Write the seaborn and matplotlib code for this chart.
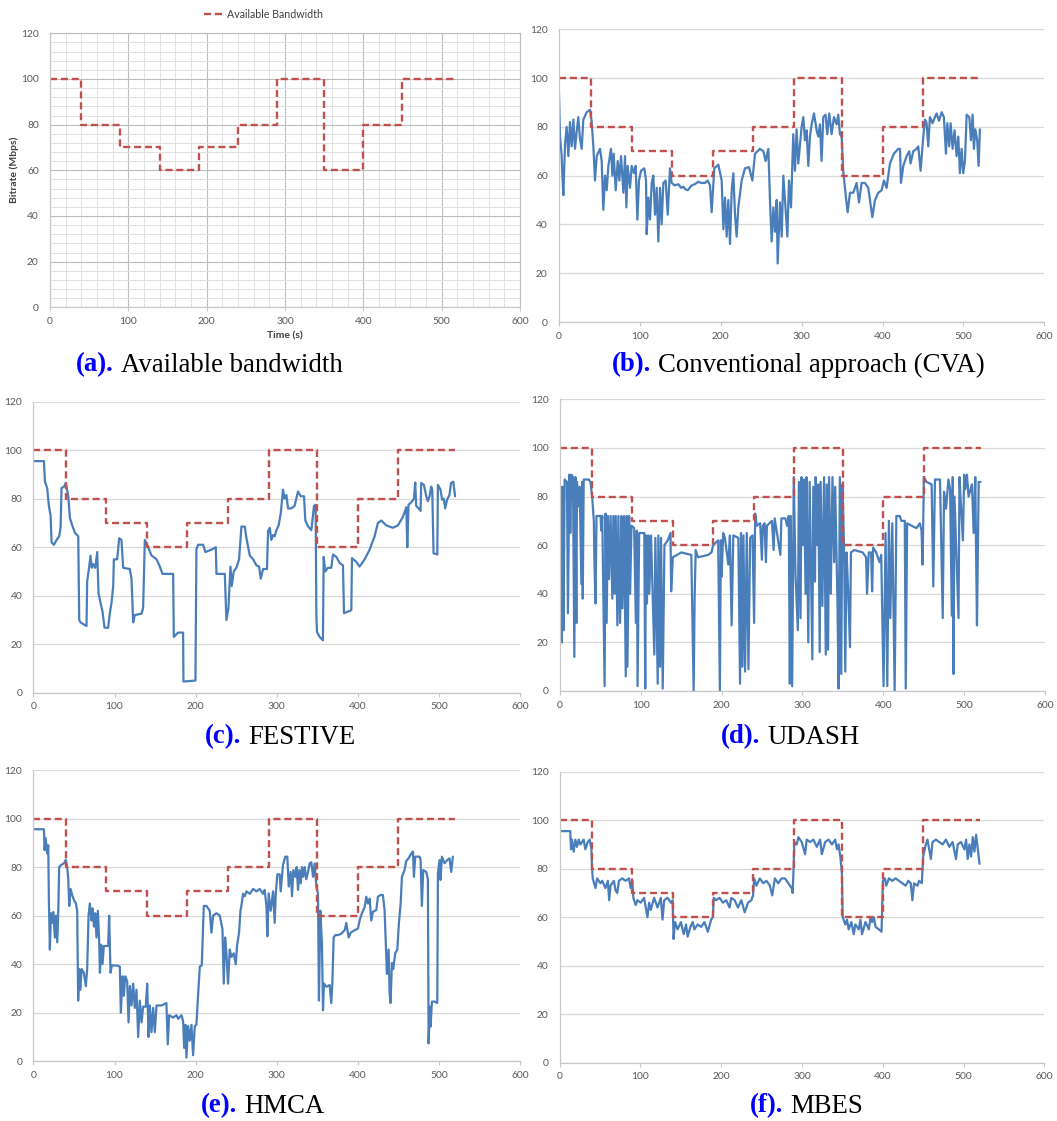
import seaborn as sns
import matplotlib.pyplot as plt
from matplotlib.ticker import MultipleLocator

# available bandwidth (step changes): time (s) -> Mbps
bw_time = [0, 40, 90, 140, 190, 240, 290, 350, 400, 450, 520]
bw_level = [100, 80, 70, 60, 70, 80, 100, 60, 80, 100, 100]

cva = [(0, 95), (1.4, 76), (3.4, 68), (4.3, 60), (5.5, 52), (7.6, 73), (9.6, 80), (11.7, 68),
       (13.7, 82), (15.8, 72), (17.9, 83), (19.9, 71), (22, 78), (24, 84), (26.1, 75), (28.2, 71),
       (30.2, 83), (34.3, 86), (38.5, 87), (40.5, 82), (42.6, 72), (44.6, 58), (46.7, 68), (50.8, 71),
       (52.9, 66), (54.9, 46), (57, 60), (59.1, 54), (61.1, 64), (64.4, 71), (66.1, 60), (67.7, 69),
       (70.2, 54), (72.7, 66), (74.7, 58), (76.8, 68), (79.7, 53), (81.7, 68), (83.4, 47), (85, 64),
       (87.9, 55), (90, 64), (92.8, 61), (94.9, 64), (97, 42), (99, 58), (101.5, 62), (105.6, 63),
       (107.7, 58), (108.5, 36), (110.6, 51), (112.6, 42), (114.7, 57), (116.7, 60), (118.8, 44),
       (120.9, 55), (122.9, 33), (125, 55), (127, 40), (129.1, 57), (132, 58), (134.5, 44),
       (137.3, 63), (139.4, 57), (143, 56), (147.6, 56.5), (151, 55), (153.8, 55.5), (156, 54.5),
       (159.2, 54), (164.1, 56), (168, 56.5), (172.4, 57.5), (176, 57), (180.6, 57), (184, 58),
       (186.8, 56), (188.8, 45), (192.1, 63), (197.1, 64.5), (201.2, 58), (203.3, 38), (205.3, 51),
       (207.4, 35), (209.4, 50), (211.5, 32), (213.6, 54), (215.6, 61), (217.7, 44), (219.7, 35),
       (221.8, 47), (225.9, 58), (230, 63), (235, 63.5), (239.1, 58), (242.4, 69), (248.6, 71),
       (252.7, 70), (255.6, 66), (258.9, 71), (261, 49), (263, 33), (265.1, 47), (267.1, 37),
       (269.2, 50), (270.4, 24), (273.3, 49), (275.4, 35), (277.4, 60), (279.5, 50), (282.4, 35),
       (284.4, 58), (286.9, 47), (289.7, 77), (291.8, 62), (293.8, 79), (295.9, 65), (300, 80),
       (302.1, 84), (304.1, 74.5), (306.2, 78.6), (308.3, 64), (310.3, 76), (312.4, 81), (315.3, 85.5),
       (318.6, 78.6), (320.6, 76), (322.7, 81), (324.7, 66), (326.8, 84), (329.7, 85), (331.7, 77),
       (334.2, 85.5), (337.1, 77), (340, 84), (343.3, 81), (345.3, 85), (347.4, 77), (349.5, 76),
       (351.5, 62), (354.8, 51), (356.9, 45), (359.8, 53), (363.9, 53), (368, 57), (370.9, 49),
       (374.2, 57), (378.3, 57), (382.4, 55), (384.5, 50), (387.4, 43), (390.7, 50), (394.8, 53),
       (398.9, 54), (401.8, 58), (405.1, 55), (409.2, 65), (414.1, 69), (419.5, 71), (421.6, 71),
       (422.8, 57), (425.7, 64), (429.8, 68), (433.1, 70), (434.7, 65), (438, 70), (442.2, 71),
       (444.2, 72), (447.1, 62), (450.4, 76), (452.5, 83), (454.5, 81.5), (456.6, 72), (458.6, 84),
       (461.9, 81.5), (464.8, 84), (466.9, 85.5), (469.8, 82.5), (473.1, 86), (475.9, 84), (478.4, 69),
       (480.1, 81.5), (482.5, 72), (484.2, 81.5), (486.7, 71), (489.1, 78.6), (491.6, 68), (493.7, 76),
       (495.7, 61), (497.8, 71), (499.8, 61), (501.9, 66), (504, 85), (507.3, 84), (509.3, 74.5),
       (511.4, 85), (513, 71), (514.7, 79), (517.1, 74.5), (518.8, 64), (520.4, 79)]

festive = [(0, 95.5), (13, 95.5), (14.2, 87), (17, 84.4), (19.1, 77), (21.2, 73), (22.4, 62), (25.3, 61),
           (28.6, 63), (31.8, 64.5), (33.5, 68), (34.7, 84.4), (38, 85), (40, 86.5), (43, 81), (45, 72),
           (48.3, 68.6), (51.1, 66), (55.3, 64.5), (56.5, 30), (58.1, 29), (61.4, 28.3), (65.5, 27.5),
           (66.3, 46), (68.8, 52), (70.4, 56.5), (72, 51.5), (73.7, 53), (76.2, 51.5), (78.7, 58),
           (80.3, 41), (82.8, 37), (85.2, 33.5), (87.7, 26.8), (92.2, 26.8), (94.3, 33), (96.3, 37),
           (98.4, 44), (99.2, 55), (103.3, 55), (105.8, 63.7), (108.6, 63), (110.7, 51.5), (118.9, 51),
           (121, 47), (123, 29), (125, 32), (133.3, 32.6), (135.3, 35), (137.4, 63), (141.5, 60),
           (145.6, 56.6), (151.8, 55), (155.9, 52), (159.2, 49), (172.3, 49), (173.1, 23), (178.5, 24.8),
           (184.6, 24.8), (185, 4.6), (199.8, 5), (201, 59), (203, 61), (209.3, 61), (212, 58),
           (219.5, 59), (224.9, 60), (225.7, 49), (236, 49), (238, 30), (240.5, 35), (243, 52),
           (244.6, 44), (247, 50), (250.3, 51.5), (253.6, 55), (256.5, 68.5), (260.6, 68.5), (262.7, 63.7),
           (266.8, 56.6), (270.9, 55), (275, 52.5), (278.3, 52), (280.3, 47), (283.2, 51), (288, 51),
           (289.3, 66.5), (291.4, 68), (293.4, 63), (295.5, 65), (297.5, 64.5), (299.6, 67), (302.4, 69),
           (305, 74), (307.8, 83.7), (309.8, 80), (312, 81.5), (314, 76), (318, 76), (322, 77),
           (326.3, 83), (329.6, 81), (333.7, 81), (335.3, 71), (338.6, 68.6), (342.7, 67), (346, 77),
           (348, 77.5), (348.9, 31.5), (349.7, 25), (353, 23), (357, 21.6), (357.9, 56), (360, 50),
           (363, 51.5), (367.3, 51.5), (369.4, 57), (373.5, 56), (377.6, 53.5), (381.7, 52.5), (383, 32.8),
           (392, 34), (392.8, 55.5), (398, 54), (402.2, 52), (408.4, 55), (414.6, 59), (420.7, 64.5),
           (424.8, 70), (429, 71), (435, 69), (443.3, 68), (449.5, 69), (455.6, 72.5), (459.8, 76.5),
           (461, 60), (462.6, 77.5), (466, 78.5), (469.2, 80), (470.8, 86.7), (472, 77), (475, 76),
           (477.4, 75), (478.2, 86.5), (481.5, 85.7), (484.4, 81), (486.4, 79), (488.5, 81), (490.5, 85),
           (491.8, 83.7), (493.4, 57.5), (498, 57), (498.8, 85.7), (502, 83.7), (504, 79.6), (506, 80),
           (507.8, 76), (510, 79.6), (513, 81.5), (515, 86.5), (517.7, 87), (520, 81)]

udash = [(0, 95), (0.8, 42), (1.6, 84), (2.8, 20), (4.1, 84), (4.9, 25), (6.2, 87), (9.1, 86), (10.3, 32),
         (12, 89), (13.2, 65), (14.5, 89), (16.5, 88), (18.2, 14), (19.5, 88), (20.7, 28), (21.5, 86),
         (22.8, 76), (24.8, 84), (26.9, 44), (27.8, 86), (28.6, 38), (29.8, 87), (36, 87), (38.1, 86),
         (40.2, 80), (42.3, 70), (43.1, 52), (44.4, 36), (45.6, 72), (50.6, 72), (51.4, 66), (52.7, 72),
         (55.6, 2), (56.8, 73), (58.1, 28), (59.7, 72), (61, 46), (63, 72), (65.1, 38), (66.4, 72),
         (68, 40), (69.3, 72), (71.4, 27), (72.6, 72), (74.7, 28), (76.3, 72), (77.6, 34), (79.7, 72),
         (81.7, 6), (83, 72), (83.8, 10), (85.9, 72), (87.1, 40), (88.8, 68), (92.1, 67), (94.2, 28),
         (95.4, 66), (96.3, 2), (98.3, 65), (104.6, 65), (105.8, 1), (106.6, 64), (107.9, 36),
         (109.6, 64), (110.8, 40), (112.9, 64), (117, 15), (118.3, 63), (121.2, 3), (122, 64),
         (124.1, 10), (125.3, 63), (127.4, 1), (129.5, 60), (133.6, 62), (137, 65), (137.8, 41),
         (139.9, 55), (150.2, 57), (162.7, 56), (165.6, 0), (166.8, 38), (168.1, 58), (171, 55),
         (183.5, 56), (187.6, 57), (189.7, 60), (195.9, 62), (198, 0), (199.2, 62), (200.1, 47),
         (202.1, 65), (204.2, 63), (208.4, 52), (210.4, 64), (212.5, 27), (214.6, 64), (220.8, 63),
         (222.9, 3), (224.1, 65), (225.8, 10), (227.1, 64), (229.1, 8), (231.2, 65), (233.3, 9),
         (235.4, 63), (238.3, 64), (240.3, 28), (241.6, 73), (243.7, 68), (247.8, 69), (249.9, 54),
         (251.1, 68), (253.2, 69), (254.9, 53), (256.1, 68), (262.3, 70), (264.4, 58), (265.7, 71),
         (272.7, 56), (274, 71), (279, 71), (281, 68), (283.1, 72), (284.4, 3), (285.6, 72), (287.3, 2),
         (289.3, 88), (291.4, 48), (294.3, 25), (295.6, 86), (297.6, 30), (298.9, 88), (300.5, 60),
         (301.8, 87), (303.9, 40), (305.1, 88), (307.2, 20), (308.9, 86), (312.2, 13), (313.4, 84),
         (315.5, 45), (316.3, 88), (318.4, 60), (319.6, 85), (321.3, 16), (322.5, 86), (324.6, 35),
         (326.7, 88), (328.8, 15), (330, 85), (331.7, 17), (332.9, 88), (335, 40), (337.1, 88),
         (339.2, 53), (340.4, 84), (343.3, 36), (344.6, 1), (346.2, 88), (347.9, 7), (349.5, 85),
         (351.6, 55), (352.9, 8), (354.5, 57), (356.6, 40), (358.7, 18), (359.9, 57), (364.1, 58),
         (374.4, 57), (378.6, 55), (379.8, 40), (381.9, 57), (384.8, 57), (386.1, 41), (387.3, 59),
         (391.1, 57), (395.2, 53), (397.3, 56), (400.2, 2), (402.7, 65), (404.8, 2), (406.8, 70),
         (408.5, 30), (411, 69), (413.9, 0), (416, 72), (420.1, 72), (422.2, 70), (426.4, 70),
         (427.6, 1), (429.3, 69), (434.7, 68), (440.9, 67), (445, 69), (447.1, 66), (448.4, 52),
         (450, 88), (453.3, 86), (459.6, 85), (461.6, 43), (463.7, 87), (469.9, 87), (473.3, 30),
         (474.9, 82), (477.4, 75), (480.3, 87), (482.4, 83), (484.5, 31), (485.7, 88), (486.6, 7),
         (487.8, 80), (492.8, 30), (494, 88), (494.9, 82), (498.2, 62), (499.8, 89), (501.1, 83),
         (503.2, 89), (505.2, 80), (509.4, 85), (511.5, 65), (513.5, 88), (514.4, 60), (515.6, 27),
         (517.7, 86), (519.8, 86)]

hmca = [(0, 95.6), (13, 95.6), (13.8, 87), (15, 92), (16.2, 88), (17, 85.6), (18.3, 89), (19.1, 66.5),
        (20.3, 46), (21.6, 61), (22.8, 57), (24.5, 61.5), (26.5, 51), (27.7, 60), (29.4, 49), (30.6, 61),
        (31.8, 80), (34.7, 81), (37.6, 81.5), (40, 83), (41.7, 80), (43, 75), (44.2, 64), (45.8, 71),
        (48.3, 68), (50, 66.5), (52.4, 65), (54, 62), (55.2, 25), (56.5, 38), (58, 29.5), (59.4, 38),
        (62.2, 36.5), (64.7, 31), (66.3, 38), (68, 60), (69.6, 65), (71.7, 58), (72.9, 63), (74.6, 55.5),
        (76.2, 61), (77.8, 51), (79.5, 62), (81.1, 49.5), (82, 36.5), (83.6, 48), (85.2, 40), (86.9, 47.5),
        (92.2, 47.5), (93.4, 60), (95.1, 36.5), (96.7, 39.5), (102.5, 39.5), (106.6, 39), (107.8, 20),
        (109.9, 35), (111.5, 27), (113.2, 35), (115.6, 33), (117.3, 16), (119, 31), (121, 23), (123, 32),
        (125, 22), (127.1, 29.5), (129.2, 10), (131.2, 25), (133.3, 16), (135.3, 22.5), (138.6, 22.5),
        (140.3, 32), (142, 10), (143.6, 23), (145.6, 12), (147.7, 22), (149.7, 12), (151.8, 23),
        (158, 23), (164, 24), (165.7, 7), (167.4, 19), (172.3, 18), (176.4, 19), (178.5, 17.5),
        (182.6, 19), (184.6, 16.5), (185.9, 5.5), (187.5, 15), (188.7, 1.5), (190.8, 14.5), (192.8, 8.5),
        (194.9, 15), (196.9, 2.5), (199, 14.5), (201, 15), (203.1, 27.5), (205.2, 39), (207.6, 39.5),
        (210.1, 64), (213.4, 64), (217.5, 62), (219.5, 53), (221.6, 60), (225.7, 61), (229.8, 60),
        (233.1, 54.5), (234.7, 32), (236.4, 51), (238, 44.5), (240, 32), (242.1, 46), (244.2, 43),
        (247, 44.5), (249.5, 40), (251.2, 48), (253.6, 53), (255.3, 62), (256.9, 65), (258.5, 69),
        (260.6, 68), (262.7, 70), (266.8, 69), (270.9, 71), (275, 70), (279.1, 71), (283.2, 69),
        (285.2, 70.6), (287.3, 64), (288.5, 51.5), (290.1, 69.2), (292.6, 62), (295.5, 70), (297.5, 57),
        (298.8, 69), (300.8, 77), (303.7, 77), (304.9, 70), (307.8, 81), (310.7, 84.3), (313.1, 84.3),
        (314.8, 72), (317.2, 78), (318.9, 68), (320.5, 78.8), (323, 76), (324.6, 80), (326.3, 70.6),
        (327.9, 78.8), (329.6, 73.3), (331.2, 80), (332.8, 76), (334.5, 80), (336.5, 75), (338.6, 78),
        (340.6, 81.5), (342.7, 82), (344.8, 76), (346.8, 81.5), (348.9, 72), (350.9, 69), (352.1, 25),
        (353.8, 62), (355.8, 48.6), (357.1, 21), (358.3, 32), (361.2, 30.7), (365.3, 31.4), (367.3, 24),
        (368.6, 32), (370.2, 51), (372.3, 52), (375.6, 52), (379.7, 52.6), (383.8, 54), (385.8, 57),
        (388.7, 51), (391.2, 53), (396, 54), (400.2, 54.7), (402.2, 58), (405.1, 61), (408.4, 63.5),
        (410.5, 67.8), (412.5, 65), (414.6, 67), (416.6, 58), (418.7, 61.6), (422.8, 62.3), (424.8, 67.8),
        (428.1, 68.5), (431, 68.5), (433, 62.3), (434.7, 47), (435.9, 36), (438, 46), (439.2, 28.4),
        (440.4, 24), (442.1, 40.5), (443.7, 38), (446.2, 44.6), (448.7, 46), (450.7, 57), (452.8, 65),
        (454.4, 76), (457.7, 78.8), (459.7, 82.5), (462.6, 83.6), (465.9, 85.6), (468, 86.4), (469.2, 76),
        (470.8, 84.3), (476.2, 84.3), (477.4, 83), (479, 64), (480.7, 78.8), (484.4, 78), (486.4, 75),
        (487.3, 7.4), (488.9, 22.5), (489.7, 14.3), (491.4, 24.6), (494.7, 24.6), (498, 24), (498.8, 77.4),
        (500.8, 82.9), (502, 74.7), (503.7, 84.3), (507, 81.6), (510.3, 82.9), (513.1, 83.6), (515.2, 78),
        (517.2, 84.3)]

mbes = [(0, 95.5), (13.2, 95.5), (14.1, 88), (15.3, 92), (17.4, 87), (19.5, 92), (21.5, 89), (23.6, 92),
        (25.7, 90), (29.8, 92), (31.9, 88), (34.8, 91), (37.3, 92), (39.4, 88), (40.2, 80), (41, 76),
        (44.4, 72), (46.4, 76), (50.6, 74), (52.7, 75), (56.8, 72), (59.7, 75), (61.4, 67), (63, 73),
        (67.2, 75), (69.3, 71), (71.4, 70), (73.4, 75), (77.6, 76), (81.7, 75), (85.9, 76), (88, 72),
        (90, 75), (91.3, 68), (94.2, 65), (96.3, 67), (100.4, 66), (104.6, 68), (108.7, 60), (110.8, 66),
        (112.9, 63), (117, 68), (121.2, 64), (125.3, 68), (127.4, 59), (129.5, 67), (133.6, 68),
        (137.8, 66), (139.9, 67), (141.1, 51), (142.8, 58), (146.1, 55), (150.2, 58), (153.6, 53),
        (156.5, 57), (158.5, 52), (161.9, 56), (164.8, 58), (166.8, 55), (171, 57), (175.2, 56),
        (179.3, 58), (183.5, 54), (187.6, 59), (189.7, 60), (190.9, 68), (193.8, 67), (198, 68),
        (202.1, 66), (206.3, 67), (210.4, 64), (212.5, 68), (216.7, 67), (220.8, 64), (225, 67),
        (229.1, 62), (233.3, 66), (237.4, 67), (239.5, 69), (240.8, 76), (243.7, 73), (247.8, 76),
        (252, 74), (256.1, 75), (260.3, 73), (263.2, 69), (266.5, 76), (270.6, 74), (274.8, 76), (279, 76),
        (283.1, 74), (287.3, 72), (288.5, 70), (289.3, 77), (290.6, 91), (293.5, 90), (295.6, 93),
        (299.7, 91), (303.9, 86), (305.9, 92), (310.1, 91), (314.2, 92), (318.4, 89), (322.5, 92),
        (324.6, 86), (328.8, 91), (332.9, 92), (337.1, 90), (341.2, 92), (343.3, 88), (345.4, 90),
        (347.5, 85), (349.5, 78), (350.4, 60), (353.7, 57), (355.8, 59), (357.8, 55), (361.2, 58),
        (364.1, 53), (366.1, 57), (370.3, 55), (372.4, 59), (374.4, 53), (378.6, 58), (382.8, 55),
        (384.8, 60), (386.9, 58), (389, 60), (391.1, 56), (395.2, 55), (398.5, 54), (400.2, 75),
        (402.7, 76), (404.3, 73), (407.7, 76), (411.8, 75), (416, 76), (420.1, 75), (424.3, 74),
        (428.4, 73), (431.7, 75), (434.7, 74), (436.7, 67), (438.8, 74), (443, 73), (445, 75),
        (448.4, 74), (450, 85), (453.3, 90), (455.4, 92), (457.5, 88), (459.6, 84), (461.6, 91),
        (465.8, 92), (469.9, 91), (474.1, 90), (478.2, 92), (482.4, 89), (486.5, 91), (490.7, 84),
        (492.8, 90), (496.9, 91), (501.1, 88), (503.2, 92), (505.2, 84), (507.3, 90), (509.4, 85),
        (511.5, 93), (513.5, 87), (515.6, 94), (517.7, 88), (519.8, 82)]

captions = [("(a).", "Available bandwidth"), ("(b).", "Conventional approach (CVA)"),
            ("(c).", "FESTIVE"), ("(d).", "UDASH"), ("(e).", "HMCA"), ("(f).", "MBES")]

RED = "#C0504D"
BLUE = "#4A7EBB"
W, H = 1057, 1121

sns.set_style("white")
plt.rcParams["font.family"] = ["Lato", "DejaVu Sans"]

fig = plt.figure(figsize=(W / 100, H / 100), dpi=100)


def add_ax(left, top, right, bottom):
    # box given in pixels of the whole picture
    return fig.add_axes([left / W, 1 - bottom / H, (right - left) / W, (bottom - top) / H])


def style(ax):
    ax.set_xlim(0, 600)
    ax.set_ylim(0, 120)
    ax.set_xticks(range(0, 601, 100))
    ax.set_yticks(range(0, 121, 20))
    ax.grid(False)
    ax.yaxis.grid(True, color="#D9D9D9", lw=0.9)
    ax.set_axisbelow(True)
    for s in ["top", "right"]:
        ax.spines[s].set_visible(False)
    for s in ["left", "bottom"]:
        ax.spines[s].set_color("#C8C8C8")
        ax.spines[s].set_linewidth(0.9)
    ax.tick_params(axis="both", labelsize=7.4, labelcolor="#595959", color="#C8C8C8")
    ax.tick_params(axis="y", left=False, length=0, pad=8)
    ax.tick_params(axis="x", bottom=True, length=3, width=0.8, pad=4, direction="out")
    ax.set_xlabel("")
    ax.set_ylabel("")


def draw_bandwidth(ax, label=None):
    sns.lineplot(x=bw_time, y=bw_level, ax=ax, color=RED, lw=1.7, drawstyle="steps-post",
                 linestyle=(0, (3, 1.6)), estimator=None, sort=False, label=label)


def draw_series(ax, pairs):
    t = [p[0] for p in pairs]
    v = [p[1] for p in pairs]
    sns.lineplot(x=t, y=v, ax=ax, color=BLUE, lw=1.6, estimator=None, sort=False)


def caption(ax, x, y, tag, text):
    t1 = fig.text(x / W, 1 - y / H, tag, color="#0000FF", fontweight="bold", fontsize=19.3,
                  family=["Liberation Serif"], va="center", ha="left")
    ax.annotate(text, xy=(1, 0), xycoords=t1, xytext=(5, 0), textcoords="offset points",
                va="bottom", ha="left", fontsize=19.3, family=["Liberation Serif"], color="black",
                annotation_clip=False)


# (a) available bandwidth alone, Excel-like dense grid
ax_a = add_ax(49.9, 33.3, 520, 307.3)
draw_bandwidth(ax_a, label="Available Bandwidth")
style(ax_a)
ax_a.xaxis.set_minor_locator(MultipleLocator(20))
ax_a.yaxis.set_minor_locator(MultipleLocator(4))
ax_a.grid(True, which="major", color="#BDBDBD", lw=0.8)
ax_a.grid(True, which="minor", color="#E1E1E1", lw=0.7)
ax_a.tick_params(which="minor", length=0)
for s in ["top", "right"]:
    ax_a.spines[s].set_visible(True)
    ax_a.spines[s].set_color("#BDBDBD")
ax_a.set_xlabel("Time (s)", fontsize=7.5, fontweight="bold", color="#404040")
ax_a.set_ylabel("Bitrate (Mbps)", fontsize=7.5, fontweight="bold", color="#404040")
ax_a.xaxis.set_label_coords(0.5, -0.088)
ax_a.yaxis.set_label_coords(-0.066, 0.5)
ax_a.legend(loc="center", bbox_to_anchor=(0.455, 1.07), frameon=False, fontsize=7.7,
            handlelength=2.0, handletextpad=0.15, labelcolor="#404040")

boxes = [(558.9, 29.3, 1044.3, 322), (33.4, 401.7, 520, 692.7), (559.6, 399.3, 1045.3, 691),
         (33.4, 770, 520, 1061.3), (559.6, 771.7, 1044.3, 1062.7)]
series = [cva, festive, udash, hmca, mbes]
axes = [ax_a]
for box, data in zip(boxes, series):
    ax = add_ax(*box)
    draw_series(ax, data)
    draw_bandwidth(ax)
    style(ax)
    if ax.get_legend():
        ax.get_legend().remove()
    axes.append(ax)

cap_pos = [(76, 365), (612, 365), (205, 737), (721, 737), (201, 1106), (750, 1106)]
for ax, (x, y), (tag, text) in zip(axes, cap_pos, captions):
    caption(ax, x, y, tag, text)

plt.savefig("out.png", dpi=100)
